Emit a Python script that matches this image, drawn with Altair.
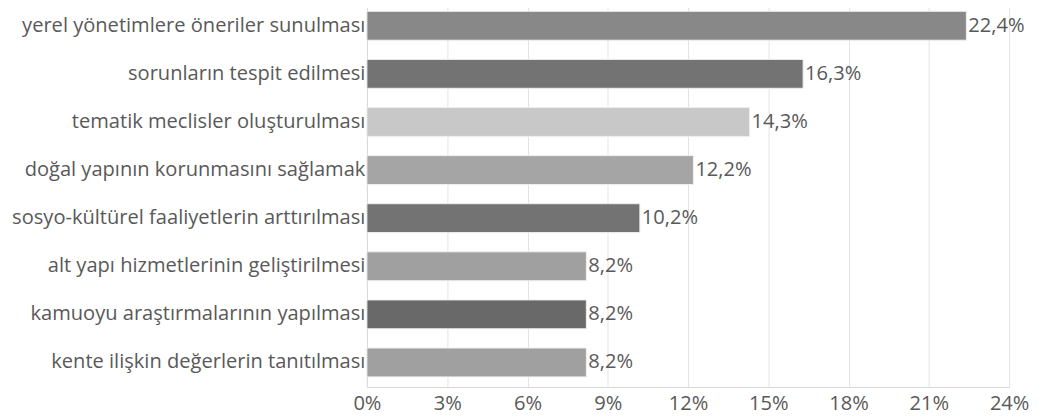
import altair as alt
import pandas as pd

categories = [
    "yerel yönetimlere öneriler sunulması",
    "sorunların tespit edilmesi",
    "tematik meclisler oluşturulması",
    "doğal yapının korunmasını sağlamak",
    "sosyo-kültürel faaliyetlerin arttırılması",
    "alt yapı hizmetlerinin geliştirilmesi",
    "kamuoyu araştırmalarının yapılması",
    "kente ilişkin değerlerin tanıtılması",
]
values = [22.4, 16.3, 14.3, 12.2, 10.2, 8.2, 8.2, 8.2]
colors = ["#888888", "#737373", "#c8c8c8", "#a5a5a5", "#737373", "#a0a0a0", "#696969", "#a0a0a0"]
ticks = [0, 3, 6, 9, 12, 15, 18, 21, 24]

df = pd.DataFrame({"cat": categories, "val": values, "col": colors})

FONT = "Open Sans"
TXT = "#595959"
FS = 20.2

y = alt.Y("cat:N", sort=categories, title=None,
          scale=alt.Scale(paddingInner=0.4, paddingOuter=0.21),
          axis=alt.Axis(labelFont=FONT, labelFontSize=FS, labelColor=TXT,
                        ticks=False, domain=True, domainColor="#d9d9d9",
                        labelPadding=2, labelLimit=400, grid=False))
x = alt.X("val:Q", title=None,
          scale=alt.Scale(domain=[0, 24], nice=False),
          axis=alt.Axis(values=ticks, labelExpr="datum.value + '%'",
                        labelFont=FONT, labelFontSize=FS, labelColor=TXT,
                        ticks=False, domain=True, domainColor="#d9d9d9",
                        grid=True, gridColor="#e3e3e3", labelPadding=7,
                        labelFlush=False))

bars = alt.Chart(df).mark_bar(stroke="#eeeeee", strokeWidth=1).encode(
    x=x, y=y, color=alt.Color("col:N", scale=None)
)

text = alt.Chart(df).transform_calculate(
    lab="replace(format(datum.val, '.1f'), '.', ',') + '%'"
).mark_text(align="left", baseline="middle", dx=2, font=FONT, fontSize=FS, color=TXT).encode(
    x="val:Q", y=alt.Y("cat:N", sort=categories), text="lab:N"
)

chart = (bars + text).properties(
    width=646, height=388,
    padding={"left": 361, "top": -8, "right": 30, "bottom": 30},
    autosize=alt.AutoSizeParams(type="none"),
).configure_view(stroke=None)

chart.save("out.html", embed_options={"renderer": "svg", "actions": False})
